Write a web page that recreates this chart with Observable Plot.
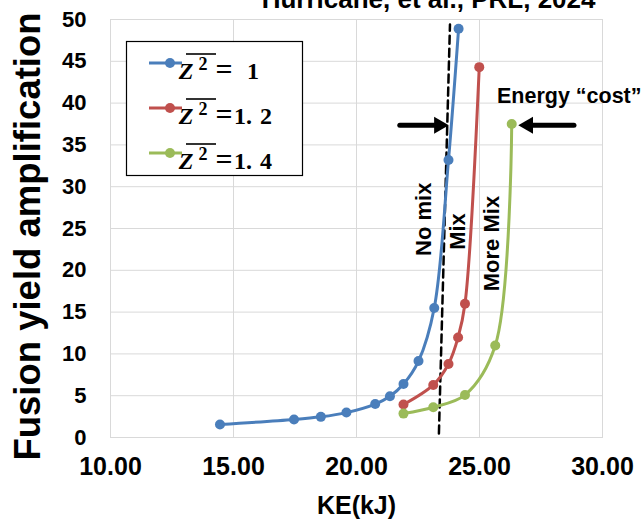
<!DOCTYPE html>
<html><head><meta charset="utf-8">
<script src="https://cdn.jsdelivr.net/npm/d3@7"></script>
<script src="https://cdn.jsdelivr.net/npm/@observablehq/plot@0.6"></script>
<style>body{margin:0;background:#fff} svg{display:block}</style>
</head><body><div id="chart"></div>
<script>
// ---- data ----
const seriesLabels = ["1", "1. 2", "1. 4"];
const seriesColors = ["#4a7ebb", "#c0504d", "#9bbb59"];
const keZ1  = [14.45, 17.46, 18.55, 19.59, 20.76, 21.36, 21.91, 22.52, 23.16, 23.74, 24.15];
const ampZ1 = [1.55, 2.15, 2.47, 2.98, 4.0, 4.93, 6.4, 9.15, 15.5, 33.2, 48.9];
const keZ12  = [21.91, 23.12, 23.74, 24.13, 24.41, 24.99];
const ampZ12 = [3.94, 6.29, 8.8, 11.97, 16.0, 44.3];
const keZ14  = [21.91, 23.12, 24.41, 25.64, 26.31];
const ampZ14 = [2.86, 3.62, 5.09, 11.0, 37.5];
const xTicks = [10, 15, 20, 25, 30];
const yTicks = [0, 5, 10, 15, 20, 25, 30, 35, 40, 45, 50];
const noMixKE  = [23.35, 23.80];
const noMixAmp = [0.48, 49.4];
const labelTexts = ["No mix", "Mix", "More Mix"];
const labelKE    = [22.74, 24.12, 25.51];
const labelAmp   = [26.1, 24.64, 23.2];
const arrowFromKE = [21.76, 28.84];
const arrowToKE   = [23.72, 26.61];
const arrowAmp    = [37.35, 37.35];
const costText = "Energy “cost”";
const costKE = 25.71, costAmp = 40.0;
const titleText = "Hurricane, et al., PRL, 2024";
const xLabel = "KE(kJ)";
const yLabel = "Fusion yield amplification";

// ---- tables ----
const points = [
  ...keZ1.map((k, i) => ({ke: k, amp: ampZ1[i], s: seriesLabels[0]})),
  ...keZ12.map((k, i) => ({ke: k, amp: ampZ12[i], s: seriesLabels[1]})),
  ...keZ14.map((k, i) => ({ke: k, amp: ampZ14[i], s: seriesLabels[2]}))
];
const dashed = noMixKE.map((k, i) => ({ke: k, amp: noMixAmp[i]}));
const labels = labelTexts.map((t, i) => ({t, ke: labelKE[i], amp: labelAmp[i]}));
const arrows = arrowFromKE.map((k, i) => ({x1: k, x2: arrowToKE[i], y: arrowAmp[i]}));

const font = "Liberation Sans, Arial, sans-serif";
const chart = Plot.plot({
  width: 642, height: 519,
  marginLeft: 110, marginRight: 40, marginTop: 19, marginBottom: 82,
  style: {fontFamily: font, background: "white", overflow: "visible"},
  x: {domain: [10, 30]},
  y: {domain: [0, 50]},
  color: {domain: seriesLabels, range: seriesColors},
  marks: [
    Plot.gridX(xTicks, {stroke: "#d9d9d9", strokeOpacity: 1}),
    Plot.gridY(yTicks, {stroke: "#d9d9d9", strokeOpacity: 1}),
    Plot.frame({stroke: "#d9d9d9"}),
    Plot.axisX(xTicks, {tickSize: 0, tickPadding: 20, tickFormat: d3.format(".2f"), fontSize: 25, fontWeight: "bold", fill: "#000", label: null}),
    Plot.axisY(yTicks, {tickSize: 0, tickPadding: 24, fontSize: 22, fontWeight: "bold", fill: "#000", label: null}),
    Plot.line(dashed, {x: "ke", y: "amp", stroke: "#000", strokeWidth: 2.5, strokeDasharray: "8,5"}),
    Plot.line(points, {x: "ke", y: "amp", z: "s", stroke: "s", strokeWidth: 3, curve: "catmull-rom"}),
    Plot.dot(points, {x: "ke", y: "amp", fill: "s", r: 5}),
    Plot.text(labels, {x: "ke", y: "amp", text: "t", rotate: -90, fontSize: 22, fontWeight: "bold", fill: "#000", lineAnchor: "middle", textAnchor: "middle"}),
    Plot.arrow(arrows, {x1: "x1", x2: "x2", y1: "y", y2: "y", stroke: "#000", strokeWidth: 5, headLength: 0, insetEnd: 8}),
    Plot.dot([arrows[0]], {x: "x2", y: "y", symbol: "triangle", rotate: 90, r: 6.3, fill: "#000", dx: -9}),
    Plot.dot([arrows[1]], {x: "x2", y: "y", symbol: "triangle", rotate: -90, r: 6.3, fill: "#000", dx: 9}),
    Plot.text([costText], {x: () => costKE, y: () => costAmp, text: d => d, textAnchor: "start", lineAnchor: "bottom", fontSize: 21.5, fontWeight: "bold", fill: "#000"}),
    Plot.text([titleText], {frameAnchor: "top-right", text: d => d, textAnchor: "end", lineAnchor: "bottom", dx: -7, dy: -12, fontSize: 26, fontWeight: "bold", fill: "#000"}),
    Plot.text([xLabel], {frameAnchor: "bottom", text: d => d, textAnchor: "middle", lineAnchor: "bottom", dy: 76, fontSize: 25, fontWeight: "bold", fill: "#000"}),
    Plot.text([yLabel], {frameAnchor: "left", text: d => d, rotate: -90, textAnchor: "middle", lineAnchor: "bottom", dx: -71, dy: 8, fontSize: 36.5, fontWeight: "bold", fill: "#000"})
  ]
});
document.getElementById("chart").appendChild(chart);

// ---- legend (inside plot area) ----
const svg = d3.select(chart);
const lg = svg.append("g");
lg.append("rect").attr("x", 126.5).attr("y", 41.5).attr("width", 176).attr("height", 134)
  .attr("fill", "white").attr("stroke", "#000").attr("stroke-width", 1.2);
seriesLabels.forEach((lab, i) => {
  const cy = 63 + i * 45;
  lg.append("line").attr("x1", 149).attr("x2", 182).attr("y1", cy).attr("y2", cy)
    .attr("stroke", seriesColors[i]).attr("stroke-width", 3);
  lg.append("circle").attr("cx", 170).attr("cy", cy).attr("r", 5).attr("fill", seriesColors[i]);
  const base = cy + 16;
  const ff = "Liberation Serif, serif";
  lg.append("text").attr("x", 186).attr("y", base).attr("font-family", ff).attr("font-weight", "bold")
    .attr("font-style", "italic").attr("font-size", 24).attr("fill", "#000").text("Z");
  lg.append("text").attr("x", 203).attr("y", base - 9).attr("font-family", ff).attr("font-weight", "bold")
    .attr("font-size", 18).attr("fill", "#000").text("2");
  lg.append("text").attr("x", 224).attr("y", base).attr("font-family", ff).attr("font-weight", "bold")
    .attr("font-size", 30).attr("fill", "#000").text("=");
  lg.append("text").attr("x", 253).attr("y", base).attr("font-family", ff).attr("font-weight", "bold")
    .attr("font-size", 24).attr("word-spacing", 2).attr("fill", "#000").text(lab);
  lg.append("line").attr("x1", 186).attr("x2", 216).attr("y1", cy - 9).attr("y2", cy - 9)
    .attr("stroke", "#000").attr("stroke-width", 1.6);
});
</script>
</body></html>
